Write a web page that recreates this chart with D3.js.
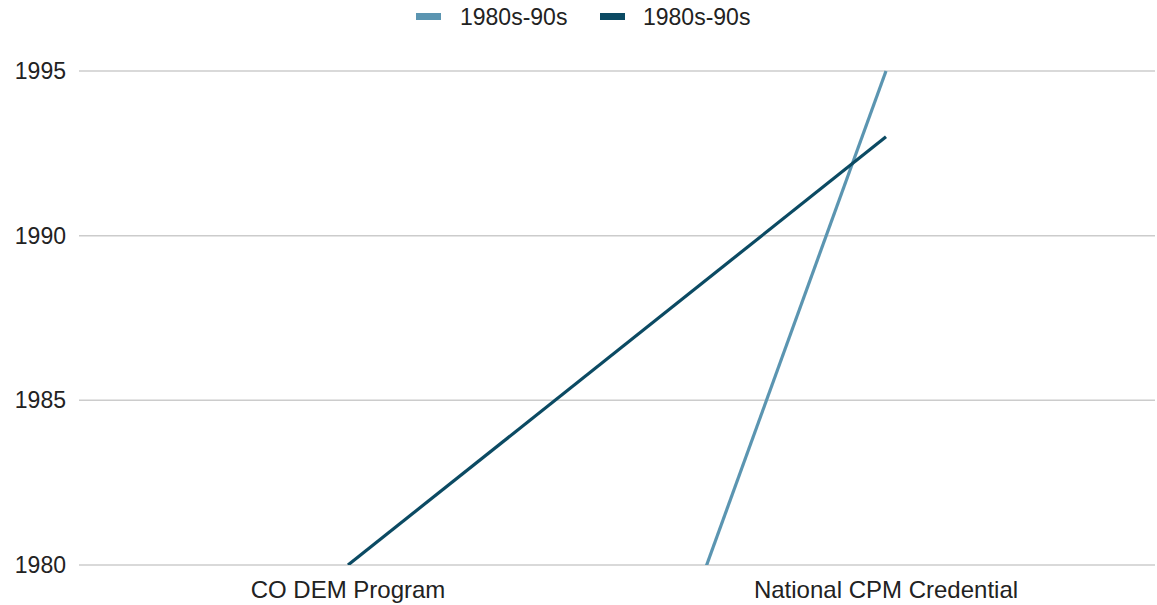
<!DOCTYPE html>
<html>
<head>
<meta charset="utf-8">
<script src="https://cdn.jsdelivr.net/npm/d3@7"></script>
<style>
  body { margin: 0; background: #fff; }
  text { font-family: "Liberation Sans", Arial, sans-serif; fill: #222; }
</style>
</head>
<body>
<svg id="chart" width="1157" height="605"></svg>
<script>
// Chart data
const categories = ["CO DEM Program", "National CPM Credential"];
const seriesNames = ["1980s-90s", "1980s-90s"];
const seriesA = [1950, 1995];
const seriesB = [1980, 1993];
const yTicks = [1980, 1985, 1990, 1995];
const colors = ["#5b95b1", "#0b4a63"];

const series = [
  { name: seriesNames[0], values: seriesA, color: colors[0] },
  { name: seriesNames[1], values: seriesB, color: colors[1] }
];

const svg = d3.select("#chart");
const margin = { left: 79, right: 2, top: 71, bottom: 40 };
const W = 1157, H = 605;
const innerW = W - margin.left - margin.right;
const innerH = H - margin.top - margin.bottom;

const x = d3.scaleBand().domain(categories).range([margin.left, margin.left + innerW]);
const y = d3.scaleLinear().domain([1980, 1995]).range([margin.top + innerH, margin.top]);

// Gridlines
svg.append("g").selectAll("line").data(yTicks).join("line")
  .attr("x1", margin.left).attr("x2", margin.left + innerW)
  .attr("y1", d => y(d)).attr("y2", d => y(d))
  .attr("stroke", "#cccccc").attr("stroke-width", 1.5);

// Y axis labels
const yAxis = d3.axisLeft(y).tickValues(yTicks).tickFormat(d3.format("d")).tickSize(0).tickPadding(13);
const yG = svg.append("g").attr("transform", `translate(${margin.left},0)`).call(yAxis);
yG.select(".domain").remove();
yG.selectAll("text").style("font-size", "23px").attr("fill", "#222")
  .style("font-family", "Liberation Sans, Arial, sans-serif");

// X axis labels
const xAxis = d3.axisBottom(x).tickSize(0).tickPadding(16);
const xG = svg.append("g").attr("transform", `translate(0,${margin.top + innerH})`).call(xAxis);
xG.select(".domain").remove();
xG.selectAll("text").style("font-size", "24px").attr("fill", "#222")
  .style("font-family", "Liberation Sans, Arial, sans-serif");

// Clip lines to plot area
svg.append("defs").append("clipPath").attr("id", "plotClip")
  .append("rect").attr("x", margin.left).attr("y", margin.top - 2)
  .attr("width", innerW).attr("height", innerH + 2);

const line = d3.line()
  .x((d, i) => x(categories[i]) + x.bandwidth() / 2)
  .y(d => y(d));

svg.append("g").attr("clip-path", "url(#plotClip)")
  .selectAll("path").data(series).join("path")
  .attr("d", d => line(d.values))
  .attr("fill", "none")
  .attr("stroke", d => d.color)
  .attr("stroke-width", 3.2);

// Legend
const legendItems = [
  { x: 416, tx: 460, s: series[0] },
  { x: 600, tx: 643, s: series[1] }
];
const lg = svg.append("g");
legendItems.forEach(it => {
  lg.append("rect").attr("x", it.x).attr("y", 13).attr("width", 25).attr("height", 7)
    .attr("fill", it.s.color);
  lg.append("text").attr("x", it.tx).attr("y", 25).attr("font-size", "23px")
    .text(it.s.name);
});
</script>
</body>
</html>
